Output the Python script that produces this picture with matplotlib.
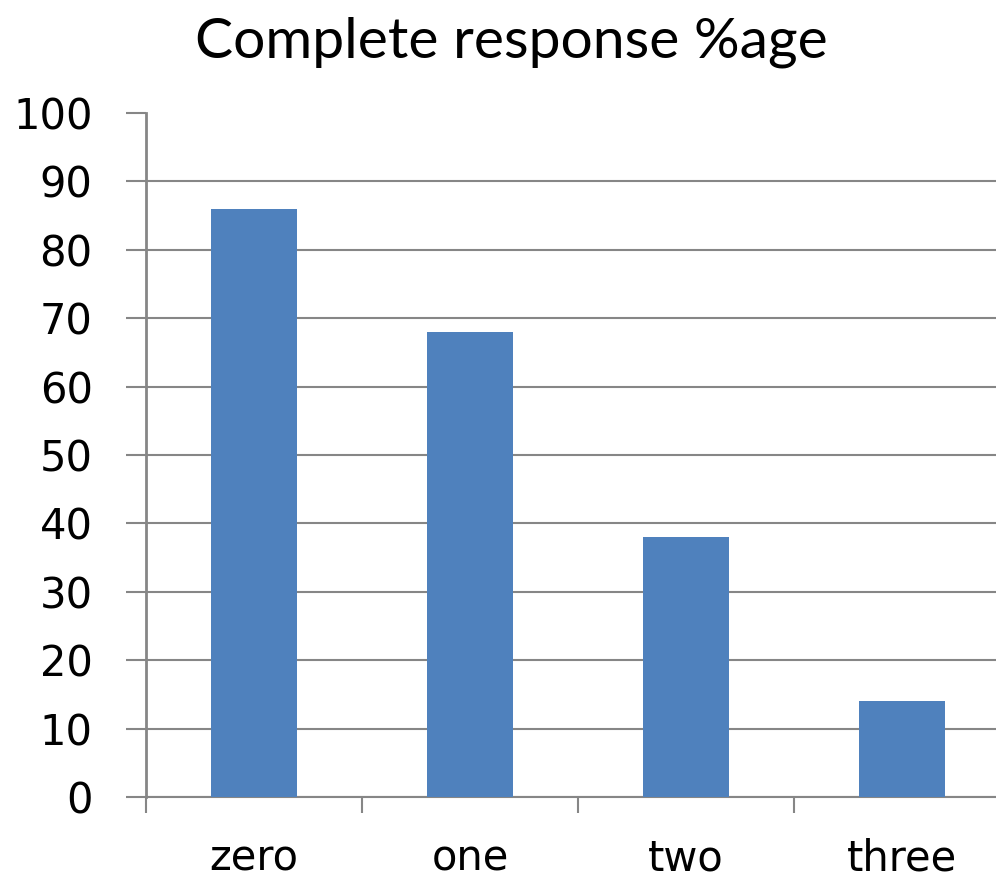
import matplotlib
matplotlib.use("Agg")
import matplotlib.pyplot as plt

categories = ["zero", "one", "two", "three"]
values = [86, 68, 38, 14]
yticks = [0, 10, 20, 30, 40, 50, 60, 70, 80, 90, 100]
title = "Complete response %age"

W, H = 996, 873
fig = plt.figure(figsize=(W / 100, H / 100), dpi=100)
ax = fig.add_axes([146 / W, (H - 797) / H, (1010 - 146) / W, (797 - 113) / H])

grid_col = "#868686"
bar_col = "#4F81BD"

x = list(range(len(categories)))
ax.bar(x, values, width=0.4, color=bar_col, zorder=3)

ax.set_xlim(-0.5, len(categories) - 0.5)
ax.set_ylim(0, 100)
ax.set_yticks(yticks)
ax.set_yticklabels([str(v) for v in yticks], fontsize=30, family="DejaVu Sans")
ax.set_xticks(x)
ax.set_xticklabels(categories, fontsize=30, family="DejaVu Sans")
ax.tick_params(axis="x", which="major", length=0, pad=29)
ax.set_xticks([i - 0.5 for i in range(len(categories) + 1)], minor=True)
ax.tick_params(axis="x", which="minor", length=11.5, width=1.5, color=grid_col, direction="out")
ax.tick_params(axis="y", length=14.4, width=1.5, color=grid_col, pad=24)

ax.yaxis.grid(True, color=grid_col, linewidth=1.5, zorder=1)
ax.set_axisbelow(True)
gl = ax.get_ygridlines()
gl[-1].set_visible(False)

for s in ["top", "right"]:
    ax.spines[s].set_visible(False)
ax.spines["left"].set_color(grid_col)
ax.spines["left"].set_linewidth(2)
ax.spines["bottom"].set_color(grid_col)
ax.spines["bottom"].set_linewidth(1.5)

fig.text(511 / W, 1 - 42 / H, title, ha="center", va="center", fontsize=41, family="Lato")

fig.savefig("out.png", dpi=100)
